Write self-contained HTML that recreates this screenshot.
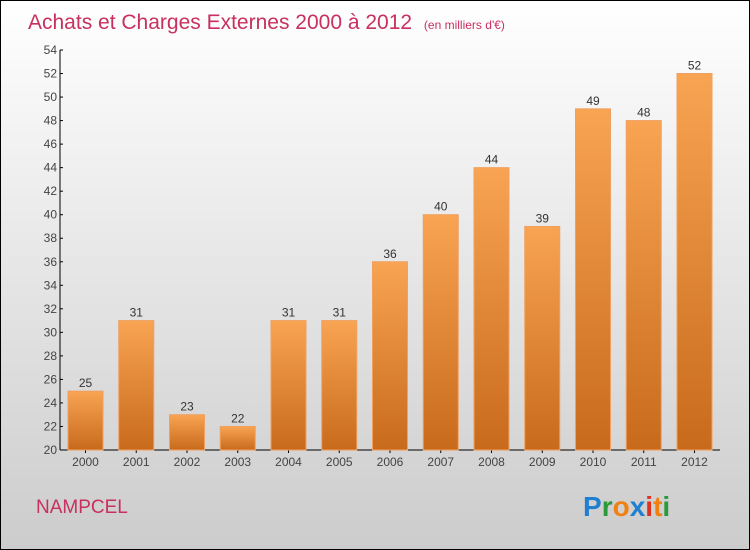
<!DOCTYPE html>
<html><head><meta charset="utf-8"><style>
body{margin:0;}
svg{display:block;font-family:"Liberation Sans",sans-serif;}
</style></head><body>
<svg id="c" width="750" height="550" xmlns="http://www.w3.org/2000/svg">
<defs>
<linearGradient id="bg" x1="0" y1="0" x2="0" y2="1"><stop offset="0" stop-color="#ffffff"/><stop offset="1" stop-color="#cccccc"/></linearGradient>
<linearGradient id="bar" x1="0" y1="0" x2="0" y2="1"><stop offset="0" stop-color="#f8a453"/><stop offset="1" stop-color="#c86a1c"/></linearGradient>
</defs>
<rect x="0.5" y="0.5" width="749" height="549" fill="url(#bg)" stroke="#000"/>
<text x="28" y="29" font-size="21" fill="#c8305f">Achats et Charges Externes 2000 à 2012 <tspan font-size="12" dx="6">(en milliers d'€)</tspan></text>
<text x="36" y="513" font-size="19" fill="#c8305f">NAMPCEL</text>
<g font-size="28" font-weight="bold">
<text x="583" y="516"><tspan fill="#1f7fd0">P</tspan><tspan fill="#2a9a3a">r</tspan><tspan fill="#f08010">o</tspan><tspan fill="#1f7fd0">x</tspan><tspan fill="#e03020">i</tspan><tspan fill="#f08010">t</tspan><tspan fill="#2a9a3a">i</tspan></text>
</g>
<g id="axes"></g>
<g id="bars"></g>
</svg>
<script>
const categories=["2000","2001","2002","2003","2004","2005","2006","2007","2008","2009","2010","2011","2012"];
const values=[25,31,23,22,31,31,36,40,44,39,49,48,52];
const yTicks=[20,22,24,26,28,30,32,34,36,38,40,42,44,46,48,50,52,54];
const NS="http://www.w3.org/2000/svg";
const y0=450,y1=50,vmin=20,vmax=54,x0=60;
function y(v){return y0-(v-vmin)/(vmax-vmin)*(y0-y1);}
function xc(i){return 85.5+i*50.75;}
function mk(t,a,p){const e=document.createElementNS(NS,t);for(const k in a)e.setAttribute(k,a[k]);p.appendChild(e);return e;}
const ax=document.getElementById('axes'),bs=document.getElementById('bars');
const yl=mk('line',{x1:x0,y1:y1,x2:x0,y2:y0,stroke:'#000'},ax);


const xl=mk('line',{x1:x0,y1:y0,x2:720,y2:y0,stroke:'#000'},ax);


yTicks.forEach(v=>{
 mk('line',{x1:x0,y1:y(v),x2:x0+3,y2:y(v),stroke:'#000'},ax);
 const t=mk('text',{x:x0-3,y:y(v)+4,'font-size':12,fill:'#444','text-anchor':'end'},ax);
 t.textContent=v;
 
 
});
categories.forEach((c,i)=>{
 const cx=xc(i);
 mk('line',{x1:cx,y1:y0,x2:cx,y2:y0+3,stroke:'#000'},ax);
 const t=mk('text',{x:cx,y:y0+16,'font-size':12,fill:'#444','text-anchor':'middle'},ax);
 t.textContent=c;
 
 
 const r=mk('rect',{x:cx-17.5,y:y(values[i]),width:35,height:y0-y(values[i]),fill:'url(#bar)',stroke:'#f0a060','stroke-width':1},bs);
 
 
 const l=mk('text',{x:cx,y:y(values[i])-4,'font-size':12,fill:'#333','text-anchor':'middle'},bs);
 l.textContent=values[i];
 
 
});
</script>
</body></html>
